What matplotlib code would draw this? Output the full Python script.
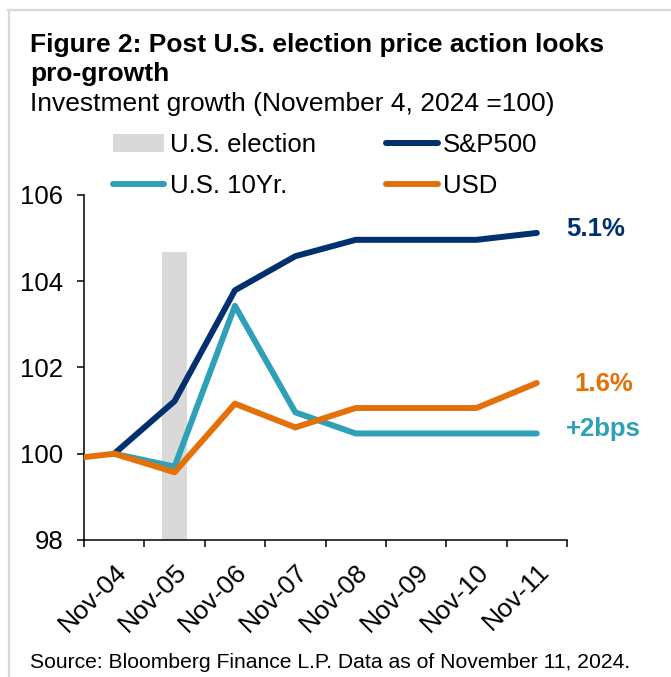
import matplotlib
matplotlib.use("Agg")
import matplotlib.pyplot as plt
from matplotlib.patches import Patch
from matplotlib.lines import Line2D

plt.rcParams['font.family'] = ['Liberation Sans', 'DejaVu Sans']

# daily closes, indexed to November 4, 2024 = 100
dates = ['Nov-04', 'Nov-05', 'Nov-06', 'Nov-07', 'Nov-08', 'Nov-09', 'Nov-10', 'Nov-11']
sp500 = [100.0, 101.22, 103.79, 104.58, 104.96, 104.96, 104.96, 105.12]
ust10 = [100.0, 99.70, 103.43, 100.96, 100.47, 100.47, 100.47, 100.47]
usd = [100.0, 99.57, 101.16, 100.61, 101.06, 101.06, 101.06, 101.64]
usd_prev = 99.92          # USD value carried in from the left edge
election_day = 1          # Nov-05
election_top = 104.67

navy = '#00306e'
teal = '#2ea0b7'
orange = '#e4700a'
grey = '#d9d9d9'

fig = plt.figure(figsize=(6.71, 6.77), dpi=100)
ax = fig.add_axes([0.1252, 0.2024, 0.7198, 0.5096])

x = list(range(len(dates)))

# election day shading
ax.bar(election_day, election_top - 98, bottom=98, width=0.42, color=grey, zorder=1)

lw = 4.3
ax.plot(x, sp500, color=navy, lw=lw, solid_capstyle='round', zorder=3)
ax.plot(x, ust10, color=teal, lw=lw, solid_capstyle='round', zorder=4)
ax.plot([-0.5] + x, [usd_prev] + usd, color=orange, lw=lw, solid_capstyle='round', zorder=5)

# end-of-line labels
ax.annotate(f"{sp500[-1] - 100:.1f}%", (x[-1], sp500[-1]), xytext=(21, 3),
            textcoords='offset points', color=navy, fontsize=18.5, fontweight='bold',
            va='center', ha='left', annotation_clip=False)
ax.annotate(f"{usd[-1] - 100:.1f}%", (x[-1], usd[-1]), xytext=(27, -1),
            textcoords='offset points', color=orange, fontsize=18.5, fontweight='bold',
            va='center', ha='left', annotation_clip=False)
ax.annotate("+2bps", (x[-1], ust10[-1]), xytext=(21, 3),
            textcoords='offset points', color=teal, fontsize=18.5, fontweight='bold',
            va='center', ha='left', annotation_clip=False)

ax.set_xlim(-0.5, len(dates) - 0.5)
ax.set_ylim(98, 106)
ax.set_yticks([98, 100, 102, 104, 106])
ax.tick_params(axis='y', labelsize=18.5, length=5, width=1.1, pad=10)

ax.set_xticks(x)
ax.set_xticklabels(dates, rotation=45, ha='right', va='top', rotation_mode='anchor',
                   fontsize=19)
ax.set_xticks([i - 0.5 for i in range(len(dates) + 1)], minor=True)
ax.tick_params(axis='x', which='major', length=0, pad=14)
ax.tick_params(axis='x', which='minor', length=5, width=1.1)

for side in ['top', 'right']:
    ax.spines[side].set_visible(False)
for side in ['left', 'bottom']:
    ax.spines[side].set_linewidth(1.1)

handles = [Patch(facecolor=grey, edgecolor='none'),
           Line2D([], [], color=teal, lw=lw, solid_capstyle='round'),
           Line2D([], [], color=navy, lw=lw, solid_capstyle='round'),
           Line2D([], [], color=orange, lw=lw, solid_capstyle='round')]
labels = ['U.S. election', 'U.S. 10Yr.', 'S&P500', 'USD']
fig.legend(handles, labels, ncol=2, loc='upper left', bbox_to_anchor=(113 / 671, 1 - 133 / 677),
           frameon=False, fontsize=18.5, handlelength=2.0, handletextpad=0.2,
           columnspacing=2.75, labelspacing=0.68, borderpad=0, borderaxespad=0,
           handleheight=0.7)

# titles and source
fig.text(30 / 671, 1 - 45 / 677, "Figure 2: Post U.S. election price action looks",
         fontsize=19, fontweight='bold', va='center', ha='left')
fig.text(30 / 671, 1 - 74 / 677, "pro-growth", fontsize=19, fontweight='bold',
         va='center', ha='left')
fig.text(30 / 671, 1 - 104 / 677, "Investment growth (November 4, 2024 =100)",
         fontsize=19, va='center', ha='left')
fig.text(30 / 671, 1 - 662 / 677, "Source: Bloomberg Finance L.P. Data as of November 11, 2024.",
         fontsize=15.2, va='center', ha='left')

# light frame along the top and left edge
fig.add_artist(Line2D([8 / 671, 1], [1 - 10 / 677, 1 - 10 / 677], color=grey, lw=1.6))
fig.add_artist(Line2D([9 / 671, 9 / 671], [0, 1 - 10 / 677], color=grey, lw=1.6))

fig.savefig('out.png', dpi=100)
